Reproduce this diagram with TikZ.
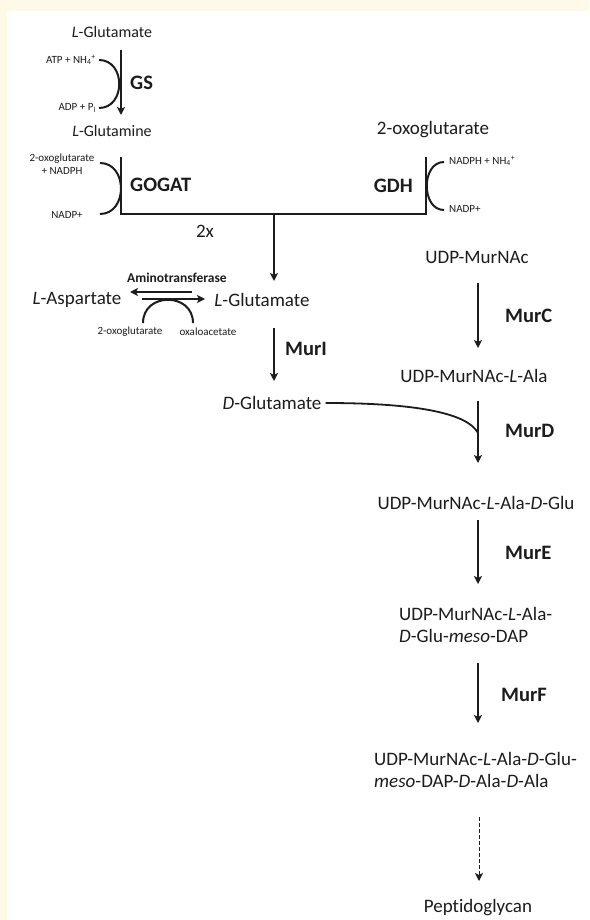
\documentclass[tikz,border=0pt]{standalone}
\usepackage{fontspec}
\setmainfont[Ligatures=NoCommon]{Carlito}
\usetikzlibrary{arrows.meta}
\definecolor{paperC}{RGB}{255,250,231}
\definecolor{inkC}{RGB}{28,28,28}
\tikzset{
	metab/.style={inner sep=0pt, font=\fontsize{19}{22}\selectfont, text=inkC},
	metabS/.style={inner sep=0pt, font=\fontsize{16}{19}\selectfont, text=inkC},
	twoline/.style={metab, align=left, font=\fontsize{19}{22}\selectfont},
	enzyme/.style={inner sep=0pt, font=\fontsize{20.5}{24}\selectfont\bfseries, text=inkC},
	cofac/.style={inner sep=0pt, align=center, font=\fontsize{11}{12.5}\selectfont, text=inkC},
	flow/.style={-{Stealth[length=8pt,width=8pt,inset=2pt]}, line width=1.5pt, draw=inkC},
	dflow/.style={flow, line width=1pt, dash pattern=on 4pt off 2pt},
	junction/.style={line width=1.5pt, draw=inkC},
	side/.style={line width=2pt, draw=inkC},
}

\begin{document}
\begin{tikzpicture}[x=1pt,y=-1pt]
		
		% =============== PAGE ===============
		\useasboundingbox (0,0) rectangle (589,920);
		\fill[paperC] (0,0) rectangle (589,920);
		\fill[white] (7,11) rectangle (589,920);
		
		% =============== GS (glutamate -> glutamine) ===============
		\node[metabS] (glu1) at (112,32) {\textit{L}-Glutamate};
		\node[metabS] (gln)  at (112,131) {\textit{L}-Glutamine};
		\node[enzyme, anchor=west] (gs) at (130,83) {GS};
		\node[cofac, anchor=east] (atp) at (96,60) {ATP + NH\textsubscript{4}\textsuperscript{+}};
		\node[cofac, anchor=east] (adp) at (96,108) {ADP + P\textsubscript{i}};
		\coordinate (gsTop) at (121,50);
		\coordinate (gsBot) at (121,115);
		
		\draw[flow] (gsTop) -- (gsBot);
		\draw[side] (atp.east) ++(3,0) .. controls (126,60) and (126,108) .. ([xshift=3pt]adp.east);
		
		% =============== GOGAT / GDH ===============
		\node[metab] (oxo) at (433,130) {2-oxoglutarate};
		\node[enzyme, anchor=west] (gogat) at (130,185) {GOGAT};
		\node[enzyme, anchor=east] (gdh) at (413,186) {GDH};
		\node[cofac] (oxoN) at (62,164) {2-oxoglutarate\\+ NADPH};
		\node[cofac] (nadpL) at (67,215) {NADP+};
		\node[cofac, anchor=west] (nadphR) at (449,161) {NADPH + NH\textsubscript{4}\textsuperscript{+}};
		\node[cofac, anchor=west] (nadpR) at (449,209) {NADP+};
		\node[metab] (twox) at (205,231) {2x};
		
		\coordinate (gogatTop) at (121,157);
		\coordinate (gogatBot) at (121,214);
		\coordinate (gdhTop) at (426,157);
		\coordinate (gdhBot) at (426,214);
		\coordinate (merge) at (274,214);
		
		\draw[junction] (gogatTop) -- (gogatBot) -- (gdhBot) -- (gdhTop);
		\draw[side] (100,163) .. controls (128,163) and (128,214) .. (100,214);
		\draw[side] (444,162) .. controls (421,162) and (421,210) .. (444,210);
		
		% =============== ASPARTATE / GLUTAMATE ===============
		\node[metab] (glu2) at (262,300) {\textit{L}-Glutamate};
		\node[metab] (asp)  at (77,300) {\textit{L}-Aspartate};
		\node[inner sep=0pt, font=\fontsize{13.5}{15}\selectfont\bfseries, text=inkC] (amt) at (177,278) {Aminotransferase};
		\node[cofac] (oxoA) at (130,332) {2-oxoglutarate};
		\node[cofac] (oaa)  at (208,332) {oxaloacetate};
		
		\draw[flow] (merge) -- (274,281);
		\draw[flow, line width=1.6pt] (192,292) -- (130,292);
		\draw[flow, line width=1.6pt] (142,299) -- (205,299);
		\draw[side] (143,323) .. controls (143,292) and (193,292) .. (193,323);
		
		% =============== RACEMASE ===============
		\node[metab] (dglu) at (272,403) {\textit{D}-Glutamate};
		\node[enzyme, anchor=west] (muri) at (285,349) {MurI};
		\draw[flow] (274,328) -- (274,381);
		
		% =============== MUR LIGASES (x = 478) ===============
		\node[metab] (udp0) at (477,257) {UDP-MurNAc};
		\node[metab] (udp1) at (474,376) {UDP-MurNAc-\textit{L}-Ala};
		\node[metab] (udp2) at (476,503) {UDP-MurNAc-\textit{L}-Ala-\textit{D}-Glu};
		\node[twoline, anchor=west] (udp3) at (399,625) {UDP-MurNAc-\textit{L}-Ala-\\\textit{D}-Glu-\textit{meso}-DAP};
		\node[twoline, anchor=west] (udp4) at (374,770) {UDP-MurNAc-\textit{L}-Ala-\textit{D}-Glu-\\\textit{meso}-DAP-\textit{D}-Ala-\textit{D}-Ala};
		\node[metab] (pg) at (478,908) {Peptidoglycan};
		
		\node[enzyme, anchor=west] (murc) at (505,316) {MurC};
		\node[enzyme, anchor=west] (murd) at (505,431) {MurD};
		\node[enzyme, anchor=west] (mure) at (505,553) {MurE};
		\node[enzyme, anchor=west] (murf) at (501,695) {MurF};
		
		\draw[flow] (478,283) -- (478,348);
		\draw[flow] (478,401) -- (478,463);
		\draw[flow] (478,520) -- (478,584);
		\draw[flow] (478,663) -- (478,723);
		\draw[dflow] (479,817) -- (479,881);
		
		% D-Glu joins the MurD step
		\draw[side, line width=1.8pt] (dglu.east) ++(4,0) .. controls (420,403) and (468,414) .. (478,433);
		
	\end{tikzpicture}
\end{document}
